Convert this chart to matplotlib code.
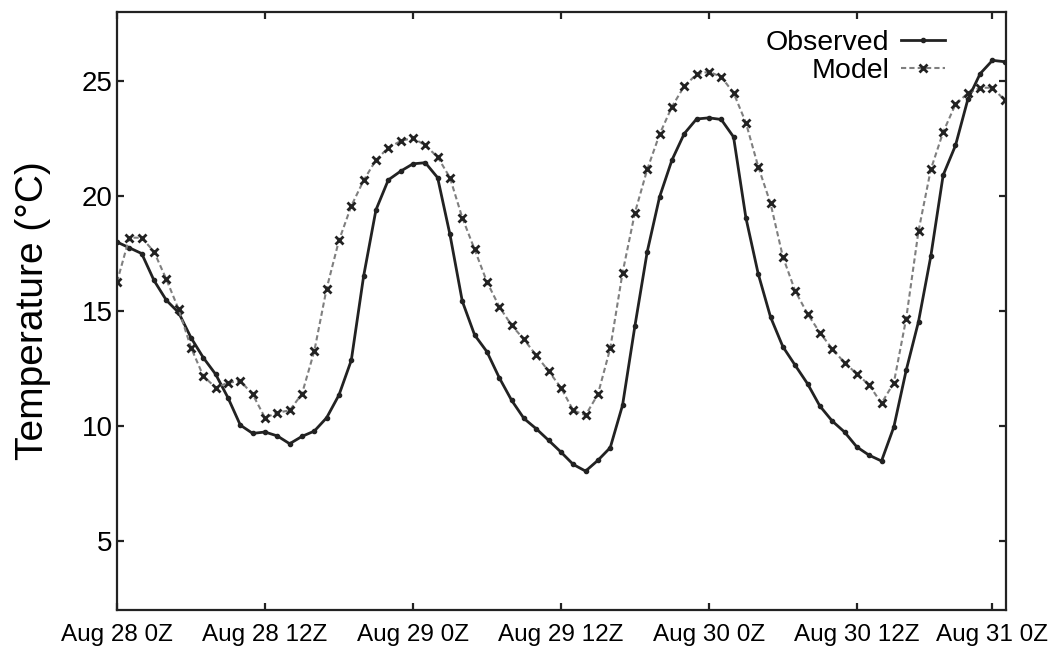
import numpy as np
import matplotlib.pyplot as plt

# hourly temperatures (deg C), Aug 28 0Z .. Aug 31 0Z
hours = np.arange(73)
observed = [18.0, 17.75, 17.5, 16.33, 15.47, 14.93, 13.84, 12.97, 12.25, 11.23,
            10.04, 9.68, 9.74, 9.57, 9.23, 9.55, 9.78, 10.36, 11.35, 12.86,
            16.52, 19.4, 20.7, 21.08, 21.4, 21.45, 20.8, 18.33, 15.43, 13.96,
            13.23, 12.1, 11.12, 10.33, 9.88, 9.38, 8.87, 8.33, 8.04, 8.51,
            9.06, 10.91, 14.35, 17.58, 19.96, 21.56, 22.71, 23.35, 23.4, 23.33,
            22.57, 19.06, 16.62, 14.74, 13.45, 12.64, 11.84, 10.87, 10.22, 9.74,
            9.09, 8.73, 8.48, 9.96, 12.42, 14.54, 17.39, 20.91, 22.2, 24.2,
            25.32, 25.9, 25.84]
model = [16.27, 18.19, 18.19, 17.58, 16.38, 15.07, 13.41, 12.17, 11.67, 11.88,
         11.96, 11.38, 10.36, 10.58, 10.68, 11.4, 13.26, 15.98, 18.07, 19.57,
         20.68, 21.57, 22.1, 22.39, 22.53, 22.2, 21.7, 20.8, 19.06, 17.68,
         16.27, 15.19, 14.38, 13.77, 13.07, 12.39, 11.67, 10.68, 10.47, 11.38,
         13.38, 16.67, 19.27, 21.16, 22.68, 23.88, 24.78, 25.29, 25.41, 25.18,
         24.49, 23.19, 21.28, 19.68, 17.36, 15.87, 14.88, 14.06, 13.36, 12.75,
         12.27, 11.78, 10.99, 11.88, 14.67, 18.48, 21.16, 22.78, 23.99, 24.47,
         24.71, 24.71, 24.16]

tick_hours = [0, 12, 24, 36, 48, 60, 71]
tick_labels = ["Aug 28 0Z", "Aug 28 12Z", "Aug 29 0Z", "Aug 29 12Z",
               "Aug 30 0Z", "Aug 30 12Z", "Aug 31 0Z"]

plt.rcParams['font.family'] = ['Liberation Sans', 'DejaVu Sans']

fig = plt.figure(figsize=(10.6, 6.48), dpi=100)
ax = fig.add_axes([0.1104, 0.0586, 0.8387, 0.9228])

ax.plot(hours, observed, color='#222222', lw=2.0, marker='o', ms=3.0,
        label='Observed')
ax.plot(hours, model, color='#7f7f7f', lw=1.5, ls=(0, (2.5, 1.5)),
        marker='x', ms=6, mew=2.0, mec='#222222', label='Model')

ax.set_xlim(0, 72.1)
ax.set_ylim(2, 28)
ax.set_yticks([5, 10, 15, 20, 25])
ax.set_xticks(tick_hours)
ax.set_xticklabels(tick_labels, fontsize=17.5)
ax.tick_params(axis='y', labelsize=20, pad=3)
ax.tick_params(axis='x', pad=10)
ax.tick_params(direction='in', length=5, width=1.6, color='#222222',
               top=True, right=True)
for s in ax.spines.values():
    s.set_linewidth(1.6)
    s.set_color('#222222')

ax.set_ylabel("Temperature (°C)", fontsize=28)
ax.yaxis.set_label_coords(-0.074, 0.5)

ax.legend(loc='upper right', bbox_to_anchor=(0.931, 0.97), frameon=False,
          markerfirst=False, numpoints=1, fontsize=20.5, handlelength=1.55,
          handletextpad=0.4, labelspacing=0.08, borderaxespad=0, borderpad=0)

fig.savefig('out.png', dpi=100)
